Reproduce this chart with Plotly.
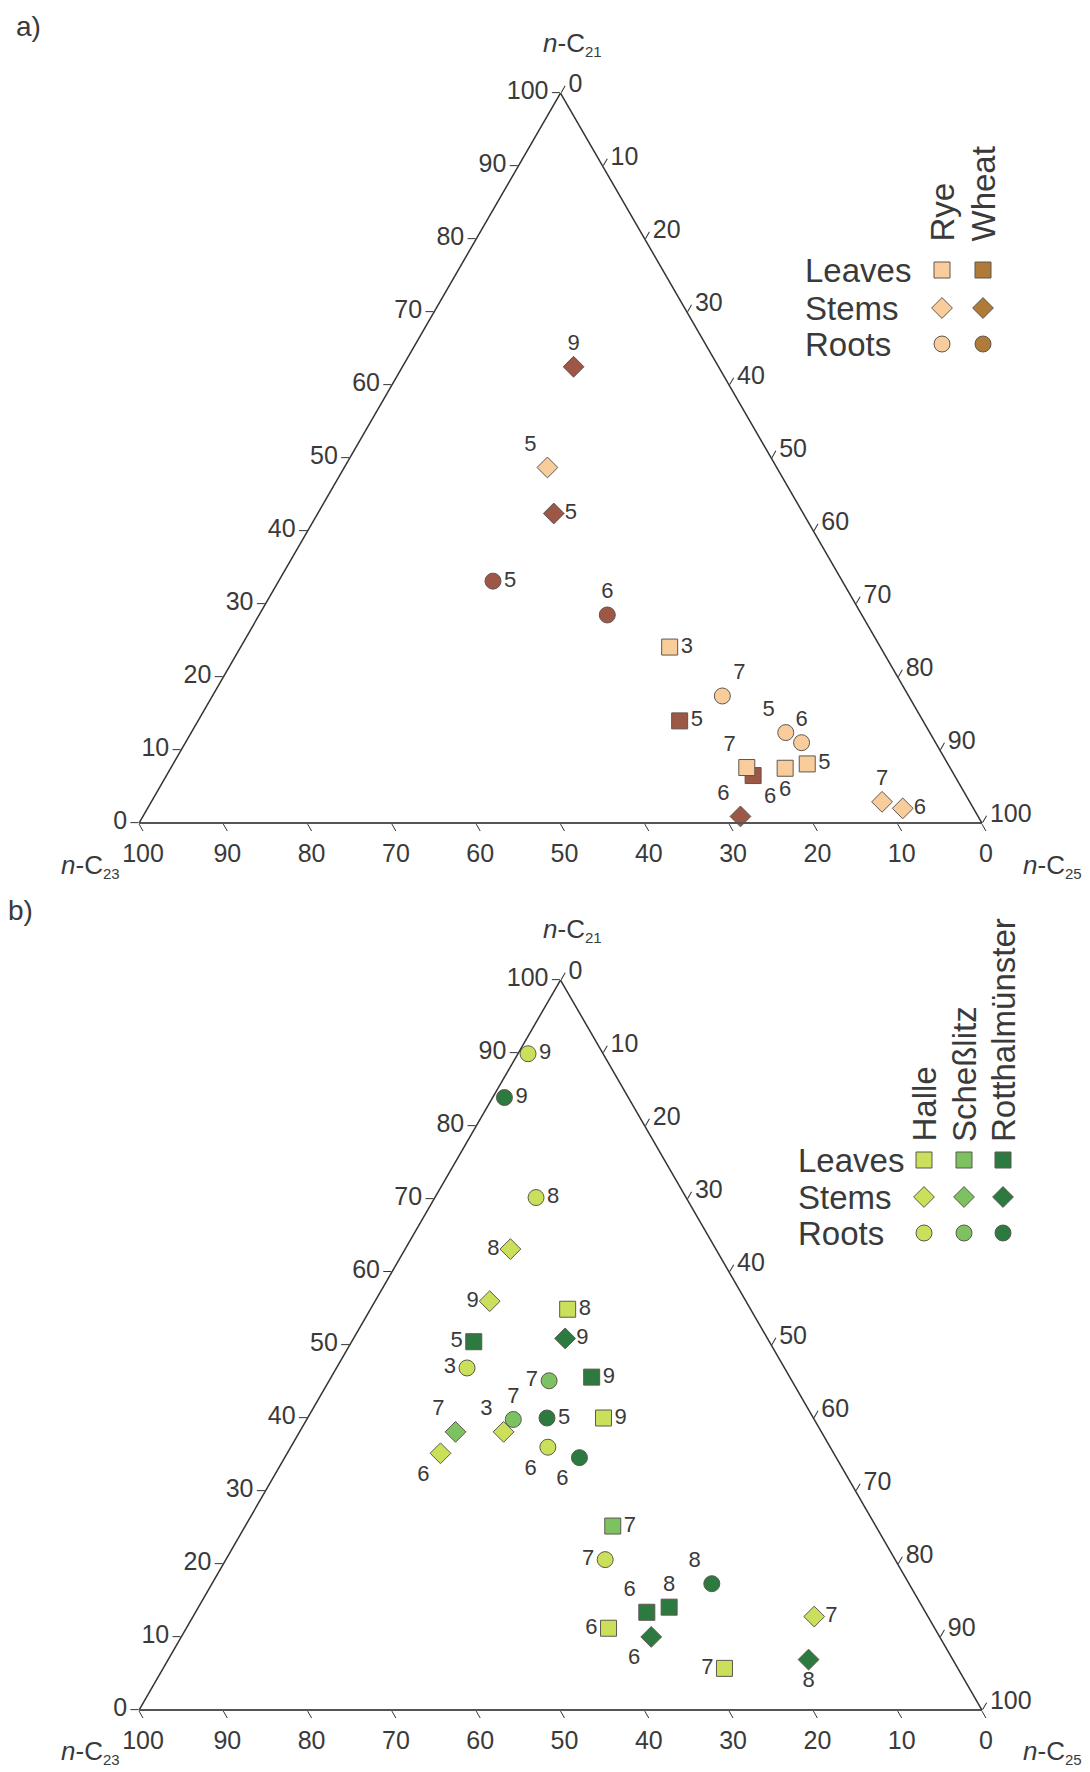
import plotly.graph_objects as go

FONT = "Liberation Sans, Arial, Helvetica, sans-serif"
W, H = 1090, 1772

# ---------------- Panel a) : (n-C21, n-C23, n-C25, label) ----------------
a_rye_leaves = [(24.1, 25.0, 50.9, "3"), (7.6, 24.1, 68.3, "7"), (7.5, 19.6, 72.9, "6"), (8.1, 16.7, 75.3, "5")]
a_wheat_leaves = [(14.0, 28.9, 57.2, "5"), (6.5, 23.9, 69.6, "6")]
a_rye_stems = [(48.7, 27.2, 24.1, "5"), (2.9, 10.4, 86.7, "7"), (2.0, 8.4, 89.6, "6")]
a_wheat_stems = [(62.5, 17.2, 20.3, "9"), (42.4, 29.6, 28.0, "5"), (0.9, 28.2, 70.9, "6")]
a_rye_roots = [(17.4, 22.1, 60.5, "7"), (12.4, 17.1, 70.6, "5"), (11.0, 15.9, 73.1, "6")]
a_wheat_roots = [(33.1, 41.4, 25.4, "5"), (28.5, 30.2, 41.3, "6")]

# label placement (style, kept separate)
a_rye_leaves_pos = ["middle right", "top left", "bottom center", "middle right"]
a_wheat_leaves_pos = ["middle right", "bottom right"]
a_rye_stems_pos = ["top left", "top center", "middle right"]
a_wheat_stems_pos = ["top center", "middle right", "top left"]
a_rye_roots_pos = ["top right", "top left", "top center"]
a_wheat_roots_pos = ["middle right", "top center"]

# ---------------- Panel b) ----------------
b_halle_leaves = [(54.9, 21.7, 23.4, "8"), (40.0, 24.9, 35.1, "9"), (11.2, 38.7, 50.1, "6"), (5.7, 27.7, 66.6, "7")]
b_schess_leaves = [(25.2, 31.2, 43.6, "7")]
b_rott_leaves = [(50.5, 35.1, 14.5, "5"), (45.6, 23.5, 30.9, "9"), (14.1, 30.1, 55.9, "8"), (13.4, 33.1, 53.6, "6")]
b_halle_stems = [(63.2, 24.4, 12.5, "8"), (56.0, 30.4, 13.6, "9"), (38.1, 37.7, 24.2, "3"), (35.2, 46.7, 18.2, "6"), (12.8, 13.5, 73.7, "7")]
b_schess_stems = [(38.1, 43.4, 18.5, "7")]
b_rott_stems = [(50.9, 24.0, 25.1, "9"), (10.0, 34.2, 55.7, "6"), (6.9, 17.1, 75.9, "8")]
b_halle_roots = [(89.9, 8.9, 1.2, "9"), (70.2, 17.8, 12.0, "8"), (46.9, 37.7, 15.5, "3"), (36.0, 33.5, 30.5, "6"), (20.6, 34.4, 45.0, "7")]
b_schess_roots = [(45.1, 28.8, 26.1, "7"), (39.8, 35.7, 24.5, "7")]
b_rott_roots = [(83.9, 14.7, 1.4, "9"), (40.0, 31.6, 28.4, "5"), (34.6, 30.5, 35.0, "6"), (17.3, 23.4, 59.3, "8")]

b_halle_leaves_pos = ["middle right", "middle right", "middle left", "middle left"]
b_schess_leaves_pos = ["middle right"]
b_rott_leaves_pos = ["middle left", "middle right", "top center", "top left"]
b_halle_stems_pos = ["middle left", "middle left", "top left", "bottom left", "middle right"]
b_schess_stems_pos = ["top left"]
b_rott_stems_pos = ["middle right", "bottom left", "bottom center"]
b_halle_roots_pos = ["middle right", "middle right", "middle left", "bottom left", "middle left"]
b_schess_roots_pos = ["middle left", "top center"]
b_rott_roots_pos = ["middle right", "middle right", "bottom left", "top left"]

TICKS = list(range(0, 101, 10))
TICK_TEXT = [str(t) for t in TICKS]

# colours
RYE = "#F8CD9B"
WHEAT = "#9C5746"
WHEAT_LEG = "#B07B38"
HALLE = "#CADF5A"
SCHESS = "#7DC260"
ROTT = "#2C7A40"
OUTLINE = "#5f5750"
TXT = "#3a3a3a"

fig = go.Figure()


def add_group(pts, pos, subplot, symbol, color, size):
    fig.add_trace(go.Scatterternary(
        a=[p[0] for p in pts], b=[p[1] for p in pts], c=[p[2] for p in pts],
        text=[p[3] for p in pts], mode="markers+text", textposition=pos,
        textfont=dict(family=FONT, size=22, color=TXT),
        marker=dict(symbol=symbol, size=size, color=color, line=dict(color=OUTLINE, width=1)),
        subplot=subplot, showlegend=False, cliponaxis=False, hoverinfo="skip"))


SQ, DI, CI = 16, 16, 16
# panel a
add_group(a_wheat_leaves, a_wheat_leaves_pos, "ternary", "square", WHEAT, SQ)
add_group(a_rye_leaves, a_rye_leaves_pos, "ternary", "square", RYE, SQ)
add_group(a_wheat_stems, a_wheat_stems_pos, "ternary", "diamond", WHEAT, DI)
add_group(a_rye_stems, a_rye_stems_pos, "ternary", "diamond", RYE, DI)
add_group(a_wheat_roots, a_wheat_roots_pos, "ternary", "circle", WHEAT, CI)
add_group(a_rye_roots, a_rye_roots_pos, "ternary", "circle", RYE, CI)
# panel b
add_group(b_schess_roots, b_schess_roots_pos, "ternary2", "circle", SCHESS, CI)
add_group(b_halle_roots, b_halle_roots_pos, "ternary2", "circle", HALLE, CI)
add_group(b_rott_roots, b_rott_roots_pos, "ternary2", "circle", ROTT, CI)
add_group(b_schess_stems, b_schess_stems_pos, "ternary2", "diamond", SCHESS, DI)
add_group(b_halle_stems, b_halle_stems_pos, "ternary2", "diamond", HALLE, DI)
add_group(b_rott_stems, b_rott_stems_pos, "ternary2", "diamond", ROTT, DI)
add_group(b_schess_leaves, b_schess_leaves_pos, "ternary2", "square", SCHESS, SQ)
add_group(b_halle_leaves, b_halle_leaves_pos, "ternary2", "square", HALLE, SQ)
add_group(b_rott_leaves, b_rott_leaves_pos, "ternary2", "square", ROTT, SQ)


def axis(line_color="#333333", lw=1.5):
    return dict(
        title=dict(text=""), tickmode="array", tickvals=TICKS, ticktext=TICK_TEXT,
        ticks="outside", ticklen=8, tickwidth=1.2, tickcolor="#333333",
        showgrid=False, showline=True, linecolor=line_color, linewidth=lw,
        tickfont=dict(family=FONT, size=25, color=TXT), min=0)


def tern(domain_y):
    return dict(
        sum=100, bgcolor="rgba(0,0,0,0)",
        domain=dict(x=[139 / W, 982 / W], y=domain_y),
        aaxis=axis(), baxis=axis("#555555", 2.2), caxis=axis())


# ---------------- custom legends (pixel coordinate overlay) ----------------
organs = ["Leaves", "Stems", "Roots"]
organ_symbols = ["square", "diamond", "circle"]
crops = ["Rye", "Wheat"]
crop_colors = [RYE, WHEAT_LEG]
sites = ["Halle", "Scheßlitz", "Rotthalmünster"]
site_colors = [HALLE, SCHESS, ROTT]

leg_a_rows = [270, 308, 344]
leg_a_cols = [942, 983]
leg_b_rows = [1160, 1197, 1233]
leg_b_cols = [924, 964, 1003]

for ci, col in enumerate(leg_a_cols):
    fig.add_trace(go.Scatter(
        x=[col] * 3, y=leg_a_rows, mode="markers", xaxis="x", yaxis="y",
        marker=dict(symbol=organ_symbols, size=16, color=crop_colors[ci], line=dict(color=OUTLINE, width=1)),
        showlegend=False, hoverinfo="skip"))
for si, col in enumerate(leg_b_cols):
    fig.add_trace(go.Scatter(
        x=[col] * 3, y=leg_b_rows, mode="markers", xaxis="x", yaxis="y",
        marker=dict(symbol=organ_symbols, size=16, color=site_colors[si], line=dict(color=OUTLINE, width=1)),
        showlegend=False, hoverinfo="skip"))

ann = []
LEGF = dict(family=FONT, size=33, color=TXT)
for r, name in zip(leg_a_rows, organs):
    ann.append(dict(x=803, y=r, text=name, xanchor="left", yanchor="middle", font=LEGF))
for r, name in zip(leg_b_rows, organs):
    ann.append(dict(x=796, y=r, text=name, xanchor="left", yanchor="middle", font=LEGF))
for col, name in zip(leg_a_cols, crops):
    ann.append(dict(x=col, y=244, text=name, textangle=-90, xanchor="center", yanchor="bottom", font=LEGF))
for col, name in zip(leg_b_cols, sites):
    ann.append(dict(x=col, y=1144, text=name, textangle=-90, xanchor="center", yanchor="bottom", font=LEGF))

TF = dict(family=FONT, size=26, color=TXT)
c21 = "<i>n</i>-C<sub><span style='font-size:15px'>21</span></sub>"
c23 = "<i>n</i>-C<sub><span style='font-size:15px'>23</span></sub>"
c25 = "<i>n</i>-C<sub><span style='font-size:15px'>25</span></sub>"
ann += [
    dict(x=14, y=26, text="a)", xanchor="left", yanchor="middle", font=dict(family=FONT, size=28, color=TXT)),
    dict(x=6, y=910, text="b)", xanchor="left", yanchor="middle", font=dict(family=FONT, size=28, color=TXT)),
    dict(x=572, y=44, text=c21, xanchor="center", yanchor="middle", font=TF),
    dict(x=90, y=866, text=c23, xanchor="center", yanchor="middle", font=TF),
    dict(x=1052, y=866, text=c25, xanchor="center", yanchor="middle", font=TF),
    dict(x=572, y=930, text=c21, xanchor="center", yanchor="middle", font=TF),
    dict(x=90, y=1752, text=c23, xanchor="center", yanchor="middle", font=TF),
    dict(x=1052, y=1752, text=c25, xanchor="center", yanchor="middle", font=TF),
]
for a_ in ann:
    a_.update(xref="x", yref="y", showarrow=False)

fig.update_layout(
    width=W, height=H, margin=dict(l=0, r=0, t=0, b=0),
    paper_bgcolor="white", plot_bgcolor="rgba(0,0,0,0)",
    font=dict(family=FONT, color=TXT),
    ternary=tern([(H - 823) / H, (H - 93) / H]),
    ternary2=tern([(H - 1710) / H, (H - 980) / H]),
    xaxis=dict(domain=[0, 1], range=[0, W], visible=False, fixedrange=True),
    yaxis=dict(domain=[0, 1], range=[H, 0], visible=False, fixedrange=True),
    annotations=ann, showlegend=False,
)

fig.write_html("out.html")
